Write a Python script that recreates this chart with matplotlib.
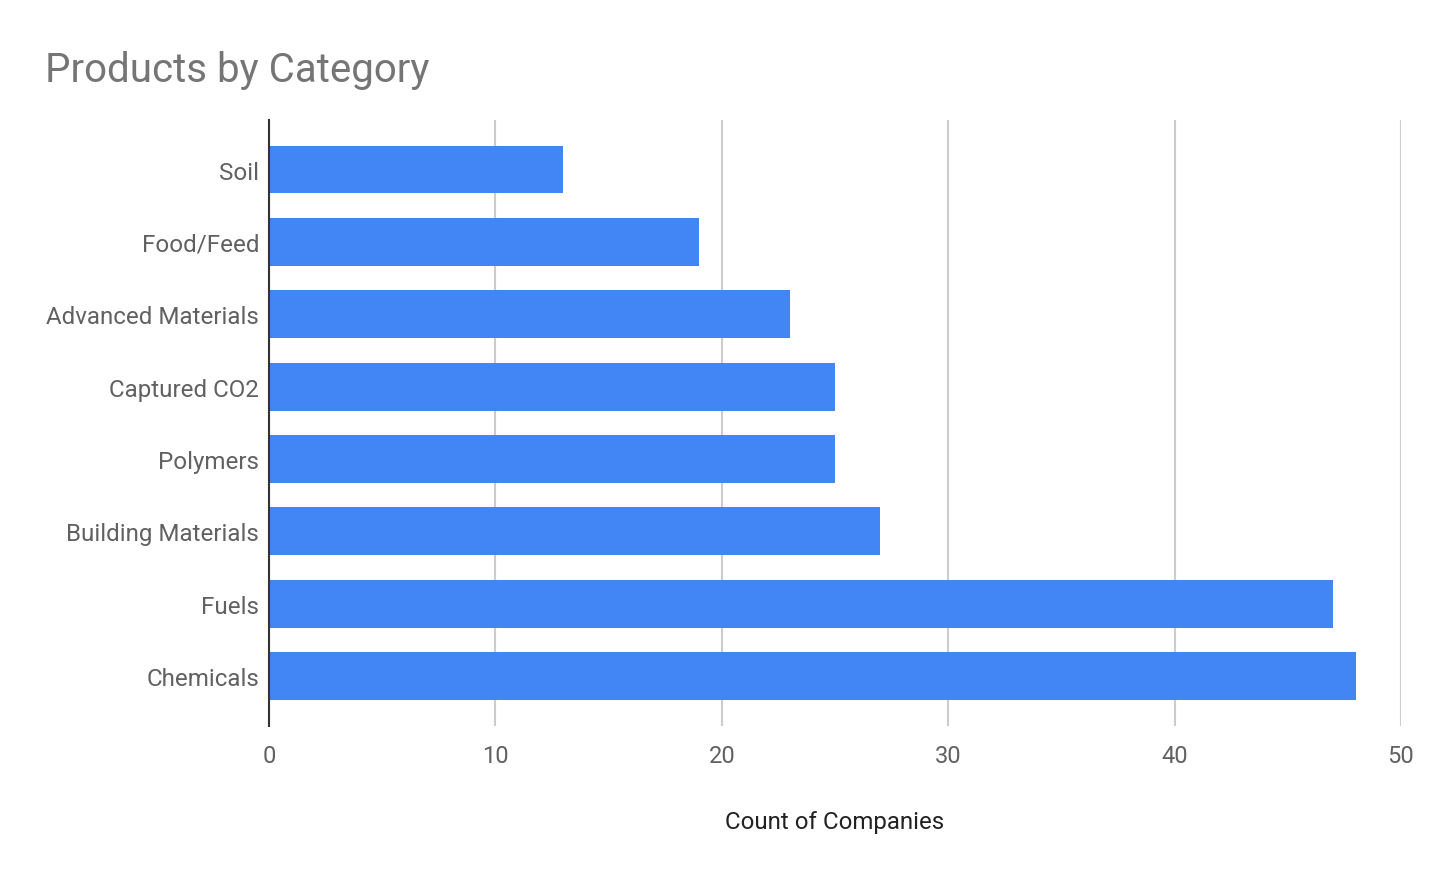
import matplotlib
matplotlib.use("Agg")
import matplotlib.pyplot as plt

categories = ["Soil", "Food/Feed", "Advanced Materials", "Captured CO2",
              "Polymers", "Building Materials", "Fuels", "Chemicals"]
counts = [13, 19, 23, 25, 25, 27, 47, 48]
x_ticks = [0, 10, 20, 30, 40, 50]

plt.rcParams['font.family'] = ['Roboto', 'DejaVu Sans']

fig = plt.figure(figsize=(14.44, 8.78), dpi=100)
ax = fig.add_axes([269/1444, 1 - 727/878, (1401-269)/1444, (727-121)/878])

y = list(range(len(categories)))
ax.barh(y, counts, height=0.66, color="#4285F4", zorder=3)

ax.set_ylim(len(categories) - 1 + 0.69, -0.685)
ax.set_xlim(0, 50)
ax.set_yticks(y)
ax.set_yticklabels(categories, fontsize=17.4, color="#616161")
ax.set_xticks(x_ticks)
ax.set_xticklabels([str(t) for t in x_ticks], fontsize=17, color="#616161")
ax.tick_params(axis='both', length=0)
ax.tick_params(axis='y', pad=7)
ax.tick_params(axis='x', pad=13)

ax.grid(axis='x', color="#cccccc", linewidth=1.5, zorder=0)
for s in ["top", "right", "bottom"]:
    ax.spines[s].set_visible(False)
ax.spines["left"].set_color("#333333")
ax.spines["left"].set_linewidth(1.5)
ax.spines["left"].set_zorder(4)

ax.set_xlabel("Count of Companies", fontsize=17.3, color="#222222", labelpad=31)

fig.text(45/1444, 1 - 70/878, "Products by Category", fontsize=29,
         color="#757575", va="center", ha="left")

fig.savefig("out.png", dpi=100)
